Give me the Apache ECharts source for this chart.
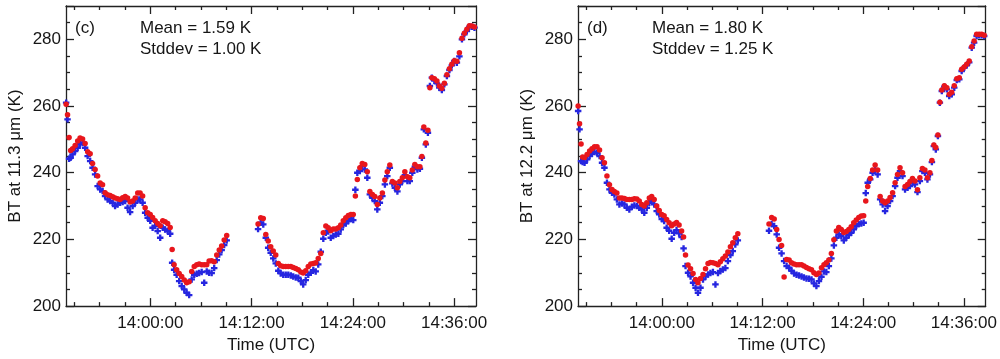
<!DOCTYPE html>
<html><head><meta charset="utf-8">
<script src="https://cdn.jsdelivr.net/npm/echarts@6/dist/echarts.min.js"></script>
<style>html,body{margin:0;padding:0;background:#fff}#c{width:1000px;height:359px}</style>
</head><body><div id="c"></div>
<script>
// ---- data ----
const times = [
'13:50:01','13:50:11','13:50:22','13:50:33','13:50:47','13:51:05','13:51:23','13:51:40','13:51:58','13:52:16',
'13:52:34','13:52:52','13:53:09','13:53:27','13:53:45','13:54:03','13:54:20','13:54:38','13:54:56','13:55:14',
'13:55:32','13:55:49','13:56:07','13:56:25','13:56:43','13:57:01','13:57:18','13:57:36','13:57:54','13:58:12',
'13:58:30','13:58:47','13:59:05','13:59:23','13:59:41','13:59:59','14:00:16','14:00:34','14:00:52','14:01:10',
'14:01:28','14:01:45','14:02:03','14:02:21','14:02:35','14:02:49','14:03:07','14:03:25','14:03:43','14:04:01',
'14:04:18','14:04:36','14:04:54','14:05:12','14:05:30','14:05:47','14:06:05','14:06:23','14:06:41','14:06:58',
'14:07:16','14:07:34','14:07:52','14:08:10','14:08:27','14:08:45','14:09:03',
'14:12:46','14:13:05','14:13:23','14:13:41','14:13:58','14:14:16','14:14:34','14:14:52','14:15:10','14:15:27',
'14:15:45','14:16:03','14:16:21','14:16:39','14:16:56','14:17:14','14:17:32','14:17:50','14:18:07','14:18:25',
'14:18:43','14:19:01','14:19:19','14:19:36','14:19:54','14:20:12','14:20:30','14:20:48','14:21:05','14:21:23',
'14:21:41','14:21:59','14:22:17','14:22:34','14:22:52','14:23:10','14:23:28','14:23:46','14:24:03','14:24:18',
'14:24:32','14:24:50','14:25:07','14:25:25','14:25:43','14:26:01','14:26:19','14:26:36','14:26:54','14:27:12',
'14:27:30','14:27:48','14:28:05','14:28:23','14:28:41','14:28:59','14:29:17','14:29:34','14:29:52','14:30:10',
'14:30:28','14:30:45','14:31:03','14:31:21','14:31:39','14:31:57','14:32:11','14:32:25','14:32:39','14:32:54',
'14:33:08','14:33:22','14:33:40','14:33:58','14:34:15','14:34:33','14:34:51','14:35:09','14:35:27','14:35:44',
'14:36:02','14:36:20','14:36:38','14:36:56','14:37:13','14:37:31','14:37:49','14:38:07','14:38:25'
];
// panel (c): 11.3 um
const redC = [
260.5,257.4,250.6,246.7,247.2,248.2,249.5,250.4,250.1,248.8,
246.3,245.7,242.8,241.0,239.0,236.9,236.4,234.0,233.4,233.2,
232.8,232.4,232.2,232.0,232.5,232.9,232.4,231.2,231.5,232.4,
233.9,233.9,233.0,229.5,228.0,227.5,226.6,225.6,224.8,224.1,
225.6,225.3,224.8,223.6,217.0,212.4,210.9,209.8,208.9,207.8,
207.0,207.3,210.4,211.9,212.4,212.6,212.4,212.4,212.4,213.5,
213.6,213.3,215.3,216.8,218.0,219.8,221.2,
224.6,226.5,226.3,221.5,219.5,217.8,216.5,215.3,212.8,212.1,
211.9,211.9,211.9,211.9,211.6,211.3,210.9,210.2,209.9,210.6,
211.9,212.6,212.8,213.0,214.3,215.8,222.0,224.0,223.5,222.6,
223.1,223.1,223.5,224.3,225.6,226.5,227.2,227.5,227.5,233.0,
238.0,241.5,242.8,242.5,240.3,234.4,233.5,232.9,230.5,232.4,
233.9,237.8,240.3,242.3,237.4,236.9,235.5,237.4,238.5,240.3,
238.8,238.5,240.8,242.5,241.8,241.8,244.9,253.7,248.9,252.7,
265.5,268.5,268.2,267.5,266.0,265.3,266.8,269.4,271.2,272.5,
273.6,273.4,276.0,280.3,281.8,283.0,284.1,284.0,283.7
];
const blueC = [
261.0,256.0,244.2,244.5,245.5,246.5,247.5,248.6,249.0,247.5,
245.0,243.5,241.5,239.5,236.0,235.0,234.5,233.0,232.0,231.5,
231.0,230.0,230.5,231.0,231.2,231.5,229.5,228.2,230.0,231.0,
232.0,232.0,231.0,228.0,226.5,225.6,223.5,224.0,222.5,220.5,
223.5,223.0,222.5,221.7,213.0,210.9,209.4,207.5,206.0,205.0,
204.0,203.3,208.0,209.4,209.7,209.9,210.2,207.0,210.4,210.0,
209.9,211.4,213.8,215.5,216.8,218.3,219.7,
223.1,225.0,224.5,220.5,217.5,216.0,214.3,212.8,210.6,209.8,
209.4,209.4,209.4,209.2,208.9,208.6,208.5,207.5,206.5,207.8,
209.4,210.0,210.8,210.4,212.5,216.3,220.2,222.0,222.4,220.5,
221.0,221.5,221.7,223.0,224.3,224.8,225.5,226.1,225.8,234.9,
240.0,240.5,242.0,241.0,238.5,233.5,232.5,231.5,229.0,231.0,
233.0,236.5,239.0,241.5,236.8,235.5,234.4,236.5,237.5,239.3,
237.5,237.5,240.0,241.8,241.0,241.2,244.5,253.0,248.5,252.0,
266.0,268.5,267.6,266.8,265.5,264.8,266.5,269.0,270.8,272.2,
273.5,273.0,274.9,280.0,281.5,282.5,283.8,283.8,283.5
];
// panel (d): 12.2 um
const redD = [
260.0,254.7,248.6,244.7,244.6,245.5,246.5,247.2,247.8,247.8,
246.8,244.5,243.0,239.0,236.4,235.0,234.4,233.9,232.4,232.4,
232.3,232.0,232.0,232.0,232.2,232.1,231.5,230.5,230.0,231.0,
232.4,232.9,232.0,230.0,228.7,227.5,227.1,226.0,225.0,224.1,
224.6,225.1,224.3,222.5,220.7,215.3,212.3,211.2,209.8,208.0,
207.0,208.3,209.5,211.2,212.8,213.1,213.0,212.8,212.4,213.3,
214.2,215.0,216.2,217.8,219.0,220.5,221.7,
224.6,226.6,226.1,223.0,220.0,218.2,208.7,214.0,213.8,213.0,
212.6,212.4,212.4,212.4,212.0,211.6,211.2,210.9,210.0,209.5,
209.9,211.5,212.4,213.0,213.8,215.8,219.9,222.5,223.6,223.0,
222.1,222.4,223.0,223.8,225.0,225.8,226.6,227.0,227.1,231.5,
235.9,238.3,240.8,242.3,240.8,232.9,231.5,231.0,231.5,232.6,
234.0,237.0,239.5,241.5,240.0,235.9,236.5,237.4,238.3,237.5,
234.9,238.5,241.3,240.8,238.5,240.0,243.7,248.3,247.6,251.3,
261.1,264.8,266.1,265.5,263.5,264.1,266.1,268.2,268.5,271.0,
271.7,272.5,273.5,277.8,279.5,281.5,281.5,281.5,281.2
];
const blueD = [
258.5,253.0,243.5,243.2,243.0,244.0,245.0,245.7,246.2,246.0,
245.0,243.0,241.5,237.0,235.0,234.0,233.5,232.0,230.5,230.8,
230.5,229.5,229.0,229.8,230.2,230.0,229.5,229.0,228.0,229.5,
231.0,231.5,230.5,228.5,227.5,226.1,225.5,223.5,222.6,220.2,
222.0,222.8,221.8,220.7,217.3,212.0,210.0,208.9,207.0,205.5,
204.0,205.5,208.0,208.9,209.5,209.9,210.2,206.5,209.9,210.5,
211.0,211.4,213.5,215.3,216.5,218.5,219.7,
222.6,224.6,224.0,221.5,217.5,215.8,213.5,212.0,211.5,210.6,
209.8,209.4,209.2,208.9,208.6,208.3,208.2,208.0,206.8,206.0,
207.5,208.8,210.4,210.2,212.0,214.3,218.2,220.5,221.5,221.0,
219.7,220.5,221.3,222.0,223.0,224.0,224.6,224.8,225.0,233.9,
237.0,238.0,240.0,241.0,239.5,232.0,230.5,228.5,230.0,231.5,
233.0,236.0,238.5,240.5,239.0,235.0,235.5,236.0,237.0,236.5,
234.2,237.5,240.5,240.0,238.0,239.5,243.2,248.0,247.0,251.0,
261.0,264.5,265.8,265.0,263.0,263.5,265.5,267.8,268.0,270.5,
271.5,272.2,273.1,277.5,279.0,281.0,281.2,281.2,281.0
];
const yTickLabels = [200, 220, 240, 260, 280];
const xTickLabels = ['14:00:00', '14:12:00', '14:24:00', '14:36:00'];
const xMinorTicks = ['13:51:00','13:54:00','13:57:00','14:03:00','14:06:00','14:09:00',
                     '14:15:00','14:18:00','14:21:00','14:27:00','14:30:00','14:33:00'];
const xRange = ['13:50:00', '14:38:36'];
const yRange = [200, 290];
const panelTags = ['(c)', '(d)'];
const panelMeans = ['Mean = 1.59 K', 'Mean = 1.80 K'];
const panelStds = ['Stddev = 1.00 K', 'Stddev = 1.25 K'];
const yNames = ['BT at 11.3 \u03bcm (K)', 'BT at 12.2 \u03bcm (K)'];
const xName = 'Time (UTC)';

// ---- helpers ----
const toMin = s => { const p = s.split(':').map(Number); return p[0] * 60 + p[1] + p[2] / 60; };
const fmt = v => { const tot = Math.round(v * 60); const h = Math.floor(tot / 3600), m = Math.floor(tot % 3600 / 60), s = tot % 60;
  const z = n => String(n).padStart(2, '0'); return z(h) + ':' + z(m) + ':' + z(s); };
const pairs = vals => vals.map((v, i) => [toMin(times[i]), v]);

const FONT = 'Liberation Sans, Arial, sans-serif';
const AX = '#222';
const TXT = '#161616';
const RED = '#e8161c';
const BLUE = '#2626e0';
const PLUS = 'path://M1.6,0H3.4V1.6H5V3.4H3.4V5H1.6V3.4H0V1.6H1.6Z';
const lineStyle = { color: AX, width: 1.3 };
const majorX = xTickLabels.map(toMin);
const minorX = xMinorTicks.map(toMin);
const X_MIN = toMin(xRange[0]), X_MAX = toMin(xRange[1]);

const grids = [
  { left: 66, top: 6, width: 410, height: 306 },
  { left: 578, top: 6, width: 410, height: 306 }
];

const xAxis = [], yAxis = [], series = [], graphic = [];
grids.forEach((g, gi) => {
  const xb = { type: 'value', gridIndex: gi, min: X_MIN, max: X_MAX, splitLine: { show: false } };
  const x0 = xAxis.length;
  xAxis.push(
    Object.assign({}, xb, { position: 'bottom',
      axisLine: { show: true, onZero: false, lineStyle },
      axisTick: { show: true, inside: true, length: 8, customValues: majorX, lineStyle },
      axisLabel: { show: true, customValues: majorX, formatter: fmt, margin: 9, fontSize: 17, color: TXT, fontFamily: FONT },
      name: xName, nameLocation: 'middle', nameGap: 26,
      nameTextStyle: { fontSize: 17, color: TXT, fontFamily: FONT } }),
    Object.assign({}, xb, { position: 'bottom', axisLine: { show: false },
      axisTick: { show: true, inside: true, length: 4, customValues: minorX, lineStyle },
      axisLabel: { show: false } }),
    Object.assign({}, xb, { position: 'top', axisLine: { show: true, onZero: false, lineStyle },
      axisTick: { show: true, inside: true, length: 8, customValues: majorX, lineStyle },
      axisLabel: { show: false } }),
    Object.assign({}, xb, { position: 'top', axisLine: { show: false },
      axisTick: { show: true, inside: true, length: 4, customValues: minorX, lineStyle },
      axisLabel: { show: false } })
  );
  const yb = { type: 'value', gridIndex: gi, min: yRange[0], max: yRange[1], interval: 20,
    splitLine: { show: false },
    axisLine: { show: true, onZero: false, lineStyle },
    axisTick: { show: true, inside: true, length: 8, lineStyle },
    minorTick: { show: true, splitNumber: 4, length: 4, lineStyle } };
  const y0 = yAxis.length;
  yAxis.push(
    Object.assign({}, yb, { position: 'left',
      axisLabel: { show: true, margin: 5, fontSize: 17, color: TXT, fontFamily: FONT,
        formatter: v => yTickLabels.includes(v) ? String(v) : '' },
      name: yNames[gi], nameLocation: 'middle', nameGap: 42, nameRotate: 90,
      nameTextStyle: { fontSize: 17, color: TXT, fontFamily: FONT } }),
    Object.assign({}, yb, { position: 'right', axisLabel: { show: false } })
  );
  const blues = gi === 0 ? blueC : blueD;
  const reds = gi === 0 ? redC : redD;
  series.push(
    { type: 'scatter', xAxisIndex: x0, yAxisIndex: y0, data: pairs(blues), symbol: PLUS, symbolSize: 6.5,
      itemStyle: { color: BLUE, opacity: 1 }, silent: true },
    { type: 'scatter', xAxisIndex: x0, yAxisIndex: y0, data: pairs(reds), symbol: 'circle', symbolSize: 5.5,
      itemStyle: { color: RED, opacity: 1 }, silent: true }
  );
  const tx = g.left;
  graphic.push(
    { type: 'text', x: tx + 9, y: 28, style: { text: panelTags[gi], fontSize: 17, fontFamily: FONT, fill: TXT, verticalAlign: 'middle' } },
    { type: 'text', x: tx + 74, y: 28, style: { text: panelMeans[gi], fontSize: 17, fontFamily: FONT, fill: TXT, verticalAlign: 'middle' } },
    { type: 'text', x: tx + 74, y: 49, style: { text: panelStds[gi], fontSize: 17, fontFamily: FONT, fill: TXT, verticalAlign: 'middle' } }
  );
});

const chart = echarts.init(document.getElementById('c'), null, { renderer: 'canvas' });
chart.setOption({
  animation: false,
  backgroundColor: '#fff',
  grid: grids,
  xAxis, yAxis, series, graphic
});
</script>
</body></html>
